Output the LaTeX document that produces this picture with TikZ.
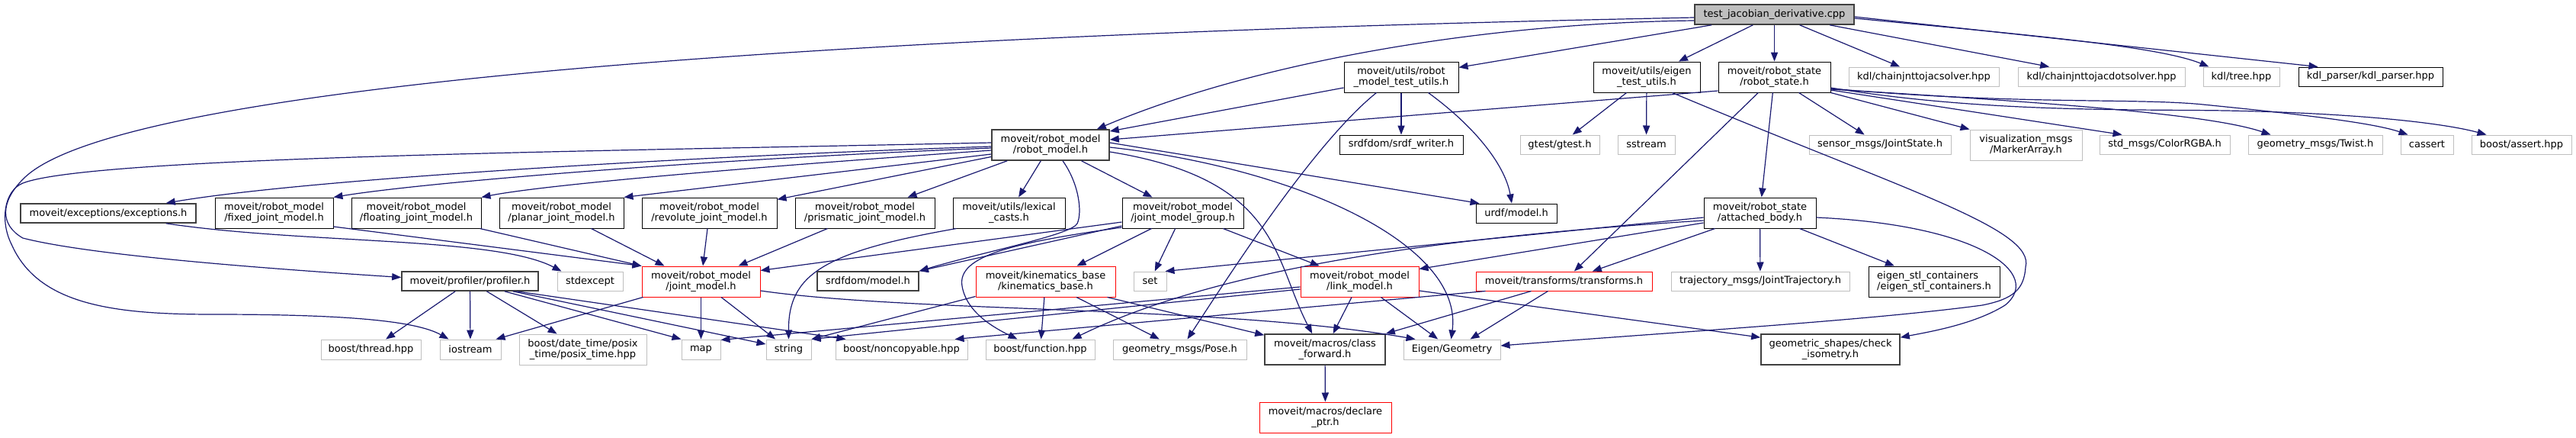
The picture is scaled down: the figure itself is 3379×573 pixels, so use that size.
\documentclass[tikz,border=0pt]{standalone}
\usepackage{fontspec}
\setmainfont{DejaVu Sans}
\usetikzlibrary{arrows.meta,calc}

\definecolor{edgeblue}{HTML}{191970}
\definecolor{grey75}{HTML}{BFBFBF}
\definecolor{grey25}{HTML}{404040}

\tikzset{
  hdr/.style={draw=black, fill=white, rectangle, inner sep=0pt, line width=0.5pt,
    align=center, font=\fontsize{6.5}{6.7}\selectfont},
  hdrlink/.style={hdr, draw=grey25, line width=0.8pt},
  hdrext/.style={hdr, draw=grey75},
  hdrtrunc/.style={hdr, draw=red},
  hdrmain/.style={hdr, draw=grey25, fill=grey75, line width=0.8pt},
  boxsize/.style 2 args={minimum width=#1*0.5pt, minimum height=#2*0.5pt},
  incl/.style={draw=edgeblue, line width=0.6pt, -{Triangle[length=6pt,width=4.6pt]}},
}

\begin{document}
\begin{tikzpicture}[x=0.5pt,y=-0.5pt]
\useasboundingbox (0,0) rectangle (3379,573);

% rank 0 and 1
\node[hdrmain, boxsize={209}{26}] (tjd) at (2327.5,19) {test\_jacobian\_derivative.cpp};
\node[hdr, boxsize={150}{40}] (rmtu) at (1838,101) {moveit/utils/robot\\\_model\_test\_utils.h};
\node[hdr, boxsize={140}{40}] (etu) at (2160,101) {moveit/utils/eigen\\\_test\_utils.h};
\node[hdr, boxsize={147}{40}] (rstate) at (2327.5,101) {moveit/robot\_state\\/robot\_state.h};
\node[hdrext, boxsize={197}{25}] (kdljac) at (2523.5,100.5) {kdl/chainjnttojacsolver.hpp};
\node[hdrext, boxsize={219}{25}] (kdljacdot) at (2756.5,100.5) {kdl/chainjnttojacdotsolver.hpp};
\node[hdrext, boxsize={100}{25}] (kdltree) at (2940,100.5) {kdl/tree.hpp};
\node[hdr, boxsize={189}{25}] (kdlparser) at (3109.5,100.5) {kdl\_parser/kdl\_parser.hpp};

% rank 2
\node[hdrlink, boxsize={154}{40}] (rmodel) at (1378,190) {moveit/robot\_model\\/robot\_model.h};
\node[hdr, boxsize={162}{25}] (srdfwriter) at (1838,189.5) {srdfdom/srdf\_writer.h};
\node[hdrext, boxsize={104}{25}] (gtest) at (2046,189.5) {gtest/gtest.h};
\node[hdrext, boxsize={75}{25}] (sstream) at (2159.5,189.5) {sstream};
\node[hdrext, boxsize={186}{25}] (jointstate) at (2466,189.5) {sensor\_msgs/JointState.h};
\node[hdrext, boxsize={147}{40}] (markerarray) at (2657.5,190) {visualization\_msgs\\/MarkerArray.h};
\node[hdrext, boxsize={171}{25}] (colorrgba) at (2839.5,189.5) {std\_msgs/ColorRGBA.h};
\node[hdrext, boxsize={176}{25}] (twist) at (3037,189.5) {geometry\_msgs/Twist.h};
\node[hdrext, boxsize={69}{25}] (cassert) at (3183.5,189.5) {cassert};
\node[hdrext, boxsize={131}{25}] (bassert) at (3307.5,189.5) {boost/assert.hpp};

% rank 3
\node[hdrlink, boxsize={230}{25}] (exceptions) at (142,279.5) {moveit/exceptions/exceptions.h};
\node[hdr, boxsize={155}{40}] (fixedjm) at (359.5,279) {moveit/robot\_model\\/fixed\_joint\_model.h};
\node[hdr, boxsize={170}{40}] (floatingjm) at (546,279) {moveit/robot\_model\\/floating\_joint\_model.h};
\node[hdr, boxsize={163}{40}] (planarjm) at (736.5,279) {moveit/robot\_model\\/planar\_joint\_model.h};
\node[hdr, boxsize={177}{40}] (revolutejm) at (930.5,279) {moveit/robot\_model\\/revolute\_joint\_model.h};
\node[hdr, boxsize={183}{40}] (prismaticjm) at (1134.5,279) {moveit/robot\_model\\/prismatic\_joint\_model.h};
\node[hdr, boxsize={147}{40}] (lexcasts) at (1323.5,279) {moveit/utils/lexical\\\_casts.h};
\node[hdr, boxsize={159}{40}] (jmgroup) at (1551.5,279) {moveit/robot\_model\\/joint\_model\_group.h};
\node[hdr, boxsize={106}{25}] (urdfmodel) at (1989,279.5) {urdf/model.h};
\node[hdr, boxsize={147}{40}] (attbody) at (2308.5,279) {moveit/robot\_state\\/attached\_body.h};

% rank 4
\node[hdrlink, boxsize={179}{25}] (profiler) at (616.5,368.5) {moveit/profiler/profiler.h};
\node[hdrext, boxsize={86}{25}] (stdexcept) at (774,368.5) {stdexcept};
\node[hdrtrunc, boxsize={155}{40}] (jmodel) at (919.5,369) {moveit/robot\_model\\/joint\_model.h};
\node[hdrlink, boxsize={133}{25}] (srdfmodel) at (1138.5,368.5) {srdfdom/model.h};
\node[hdrtrunc, boxsize={183}{40}] (kinbase) at (1371.5,369) {moveit/kinematics\_base\\/kinematics\_base.h};
\node[hdrext, boxsize={43}{25}] (set) at (1508.5,368.5) {set};
\node[hdrtrunc, boxsize={155}{40}] (lmodel) at (1783.5,369) {moveit/robot\_model\\/link\_model.h};
\node[hdrtrunc, boxsize={231}{25}] (transforms) at (2051.5,368.5) {moveit/transforms/transforms.h};
\node[hdrext, boxsize={234}{25}] (jtraj) at (2309,368.5) {trajectory\_msgs/JointTrajectory.h};
\node[hdr, boxsize={172}{40}, align=left] (eigenstl) at (2537,369) {eigen\_stl\_containers\\/eigen\_stl\_containers.h};

% rank 5 and 6
\node[hdrext, boxsize={131}{26}] (bthread) at (486.5,458) {boost/thread.hpp};
\node[hdrext, boxsize={80}{26}] (iostream) at (617,458) {iostream};
\node[hdrext, boxsize={167}{40}] (posixtime) at (764.5,458) {boost/date\_time/posix\\\_time/posix\_time.hpp};
\node[hdrext, boxsize={51}{26}] (map) at (919.5,458) {map};
\node[hdrext, boxsize={59}{26}] (string) at (1034.5,458) {string};
\node[hdrext, boxsize={173}{26}] (noncopy) at (1182.5,458) {boost/noncopyable.hpp};
\node[hdrext, boxsize={143}{26}] (bfunction) at (1364.5,458) {boost/function.hpp};
\node[hdrext, boxsize={175}{26}] (pose) at (1547.5,458) {geometry\_msgs/Pose.h};
\node[hdrlink, boxsize={158}{40}] (classfwd) at (1738,458) {moveit/macros/class\\\_forward.h};
\node[hdrext, boxsize={127}{26}] (eigengeo) at (1904.5,458) {Eigen/Geometry};
\node[hdrlink, boxsize={182}{40}] (checkiso) at (2401,458) {geometric\_shapes/check\\\_isometry.h};
\node[hdrtrunc, boxsize={173}{40}] (declptr) at (1738.5,547) {moveit/macros/declare\\\_ptr.h};

% straight includes
\foreach \a/\b in {tjd/rmtu, tjd/etu, tjd/rstate, tjd/kdljac, tjd/kdljacdot,
    rmodel/revolutejm, rmodel/prismaticjm, rmodel/lexcasts, rmodel/jmgroup,
    rmtu/srdfwriter, etu/gtest, etu/sstream,
    rstate/attbody, rstate/transforms, rstate/jointstate,
    attbody/transforms, attbody/jtraj, attbody/eigenstl,
    revolutejm/jmodel, prismaticjm/jmodel, jmodel/map, jmodel/string,
    jmgroup/kinbase, jmgroup/set, jmgroup/lmodel,
    kinbase/bfunction, kinbase/pose, lmodel/classfwd, lmodel/eigengeo,
    profiler/bthread, profiler/iostream, profiler/posixtime, classfwd/declptr}
  \draw[incl] (\a) -- (\b);

% test file
\draw[incl] ($(tjd.east)+(0,5)$) .. controls (2650,45) and (2830,60) .. ($(kdltree.north west)+(8,0)$);
\draw[incl] ($(tjd.east)+(0,3)$) -- ($(kdlparser.north west)+(26,0)$);
\draw[incl] ($(tjd.west)+(0,8)$) .. controls (1950,30) and (1650,80) .. ($(rmodel.north east)+(-17,0)$);
\draw[incl] ($(tjd.west)+(0,4)$) .. controls (1100,45) and (150,110) .. (30,235)
  .. controls (0,265) and (0,295) .. (30,312)
  .. controls (120,335) and (350,352) .. ($(profiler.west)+(0,-5)$);

% robot_model.h
\draw[incl] ($(rmodel.west)+(0,-3)$) .. controls (800,198) and (120,205) .. (30,240)
  .. controls (5,250) and (0,290) .. (15,320)
  .. controls (50,400) and (150,412) .. (280,412)
  .. controls (450,412) and (545,420) .. ($(iostream.north west)+(12,0)$);
\draw[incl] ($(rmodel.west)+(0,2)$) .. controls (900,205) and (400,235) .. ($(exceptions.north east)+(-40,0)$);
\draw[incl] ($(rmodel.west)+(0,4)$) .. controls (900,210) and (550,240) .. (fixedjm.north east);
\draw[incl] ($(rmodel.west)+(0,7)$) .. controls (900,225) and (700,245) .. (floatingjm.north east);
\draw[incl] ($(rmodel.west)+(0,12)$) -- (planarjm.north east);
\draw[incl] ($(rmodel.east)+(0,-3)$) -- ($(urdfmodel.north west)+(5,0)$);
\draw[incl] ($(rmodel.east)+(0,3)$) .. controls (1700,220) and (1920,320) .. ($(eigengeo.north)+(-1,0)$);
\draw[incl] ($(rmodel.east)+(0,9)$) .. controls (1680,235) and (1670,340) .. ($(classfwd.north west)+(63,0)$);
\draw[incl] ($(rmodel.south)+(16,0)$) .. controls (1415,240) and (1420,278) .. (1413,293)
  .. controls (1405,308) and (1290,330) .. (srdfmodel.north east);

% test utils and robot_state.h
\draw[incl] ($(rmtu.west)+(0,14)$) -- ($(rmodel.east)+(0,-18)$);
\draw[incl] ($(rmtu.south east)+(-40,0)$) .. controls (1940,170) and (1975,220) .. ($(urdfmodel.north)+(-6,0)$);
\draw[incl] ($(rmtu.south west)+(43,0)$) .. controls (1720,190) and (1600,380) .. ($(pose.north)+(10,0)$);
\draw[incl] ($(etu.south east)+(-37,0)$) .. controls (2500,250) and (2670,300) .. (2657,350)
  .. controls (2655,380) and (2640,392) .. (2600,400)
  .. controls (2450,420) and (2200,435) .. ($(eigengeo.east)+(0,-5)$);
\draw[incl] ($(rstate.west)+(0,18)$) -- ($(rmodel.east)+(0,-7)$);
\draw[incl] (rstate.south east) -- (markerarray.north west);
\draw[incl] ($(rstate.east)+(0,17)$) -- ($(colorrgba.north west)+(30,0)$);
\draw[incl] ($(rstate.east)+(0,16)$) .. controls (2700,135) and (2900,150) .. ($(twist.north west)+(30,0)$);
\draw[incl] ($(rstate.east)+(0,15)$) .. controls (2650,138) and (2800,128) .. (2890,137)
  .. controls (3000,148) and (3110,160) .. ($(cassert.north west)+(10,0)$);
\draw[incl] ($(rstate.east)+(0,14)$) .. controls (2600,148) and (2800,143) .. (2920,145)
  .. controls (3080,148) and (3200,160) .. ($(bassert.north west)+(20,0)$);

% attached_body.h
\draw[incl] ($(attbody.east)+(0,6)$) .. controls (2600,295) and (2680,360) .. (2630,400)
  .. controls (2590,425) and (2530,435) .. ($(checkiso.north east)+(0,5)$);
\draw[incl] ($(attbody.west)+(0,13)$) -- ($(lmodel.north east)+(0,4)$);
\draw[incl] ($(attbody.west)+(0,6)$) -- ($(set.north east)+(-2,0)$);
\draw[incl] ($(attbody.west)+(0,10)$) .. controls (1900,310) and (1600,350) .. ($(bfunction.north east)+(-30,0)$);

% joint models and group
\draw[incl] ($(fixedjm.east)+(0,18)$) -- (jmodel.north west);
\draw[incl] ($(floatingjm.south east)+(-2,0)$) -- (jmodel.north west);
\draw[incl] ($(planarjm.south east)+(-43,0)$) -- ($(jmodel.north west)+(30,0)$);
\draw[incl] ($(lexcasts.south west)+(5,0)$) .. controls (1080,330) and (1034,360) .. (string.north);
\draw[incl] ($(jmgroup.west)+(0,12)$) -- ($(jmodel.north east)+(0,6)$);
\draw[incl] ($(jmgroup.west)+(0,17)$) -- (srdfmodel.north east);
\draw[incl] ($(jmgroup.west)+(0,19)$) .. controls (1330,318) and (1255,335) .. (1262,375)
  .. controls (1268,410) and (1305,430) .. ($(bfunction.north west)+(42,0)$);
\draw[incl] ($(jmodel.south west)+(2,0)$) -- ($(iostream.north east)+(-7,0)$);
\draw[incl] ($(jmodel.east)+(0,12)$) .. controls (1200,410) and (1600,400) .. ($(eigengeo.north west)+(16,0)$);

% kinematics, link model, transforms
\draw[incl] ($(kinbase.south west)+(0,-1)$) -- (string.north east);
\draw[incl] ($(kinbase.south east)+(-11,0)$) -- ($(classfwd.north west)+(0,2)$);
\draw[incl] ($(lmodel.east)+(0,12)$) -- ($(checkiso.north west)+(0,5)$);
\draw[incl] ($(lmodel.west)+(0,7)$) -- ($(map.north east)+(0,1)$);
\draw[incl] ($(lmodel.west)+(0,10)$) -- (string.north east);
\draw[incl] ($(transforms.south west)+(73,0)$) -- (classfwd.north east);
\draw[incl] ($(transforms.south west)+(95,0)$) -- ($(eigengeo.north east)+(-40,0)$);
\draw[incl] ($(transforms.south west)+(13,0)$) -- ($(noncopy.north east)+(-17,0)$);

% profiler and exceptions
\draw[incl] ($(profiler.south east)+(-45,0)$) -- (map.north west);
\draw[incl] ($(profiler.south east)+(-34,0)$) -- ($(string.west)+(0,-7)$);
\draw[incl] ($(profiler.south east)+(-29,0)$) -- ($(noncopy.north west)+(14,0)$);
\draw[incl] ($(exceptions.south east)+(-40,0)$) .. controls (400,320) and (650,310) .. ($(stdexcept.north west)+(6,0)$);
\end{tikzpicture}
\end{document}
